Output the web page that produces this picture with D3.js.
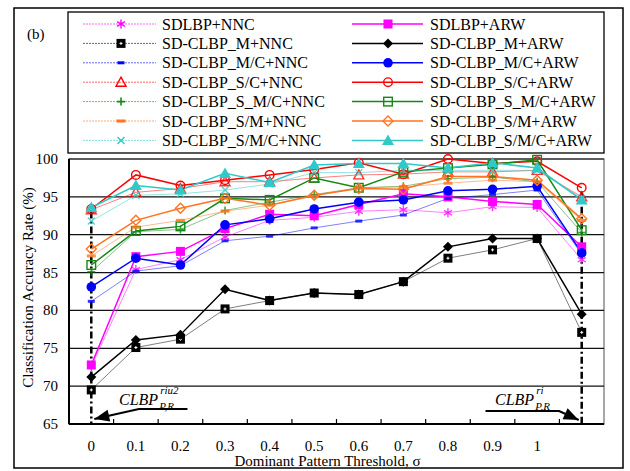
<!DOCTYPE html>
<meta charset="utf-8">
<style>
body { margin: 0; background: #fff; }
svg text { font-family: "Liberation Serif", "Times New Roman", "DejaVu Serif", serif; fill: #000; }
.grid { stroke: #111; stroke-width: 1.3px; }
</style>
<body>
<script src="https://d3js.org/d3.v7.min.js"></script>
<script>

// thresholds (last slot = CLBP riu/ri reference, no label)
var categories = ["0", "0.1", "0.2", "0.3", "0.4", "0.5", "0.6", "0.7", "0.8", "0.9", "1", "ri"];
var tickLabels = ["0", "0.1", "0.2", "0.3", "0.4", "0.5", "0.6", "0.7", "0.8", "0.9", "1", ""];
var yTicks = [65, 70, 75, 80, 85, 90, 95, 100];

// accuracy values
var sdlbpNNC   = [72.6, 85.4, 86.7, 89.7, 91.9, 92.3, 93.1, 93.3, 92.9, 93.7, 93.6, 86.7];
var sdlbpARW   = [72.8, 87.1, 87.8, 90.8, 92.7, 92.5, 94.0, 95.4, 95.0, 94.4, 94.0, 88.4];
var mNNC       = [69.5, 75.1, 76.2, 80.2, 81.3, 82.3, 82.1, 83.8, 86.9, 88.0, 89.5, 77.1];
var mARW       = [71.2, 76.1, 76.8, 82.8, 81.3, 82.3, 82.1, 83.8, 88.4, 89.5, 89.5, 79.5];
var mcNNC      = [81.2, 85.2, 85.9, 89.2, 89.8, 90.9, 91.8, 92.6, 94.8, 95.3, 95.9, 87.4];
var mcARW      = [83.1, 86.9, 86.0, 91.3, 92.1, 93.4, 94.3, 94.6, 95.8, 96.0, 96.4, 87.6];
var scNNC      = [93.3, 95.6, 96.1, 97.0, 97.0, 97.5, 97.9, 98.0, 98.3, 98.3, 98.5, 95.0];
var scARW      = [93.4, 97.9, 96.5, 97.2, 97.9, 98.6, 99.5, 98.0, 100.0, 99.4, 99.7, 96.2];
var smcNNC     = [85.1, 90.4, 90.7, 93.2, 94.3, 95.3, 96.2, 96.4, 97.4, 97.6, 97.0, 90.3];
var smcARW     = [86.0, 90.5, 91.1, 94.8, 94.6, 97.5, 96.2, 98.3, 98.8, 99.3, 99.9, 90.6];
var smNNC      = [87.2, 91.0, 91.9, 93.1, 93.9, 95.1, 96.2, 96.3, 96.8, 97.2, 97.0, 91.9];
var smARW      = [88.1, 91.9, 93.5, 94.8, 93.9, 95.2, 96.1, 96.0, 97.7, 97.7, 97.2, 92.1];
var s_m_cNNC   = [91.8, 95.2, 95.4, 95.9, 96.7, 98.2, 98.2, 98.5, 98.5, 98.5, 98.5, 94.8];
var s_m_cARW   = [93.6, 96.5, 95.9, 98.1, 96.9, 99.2, 99.4, 99.4, 98.8, 99.5, 98.8, 94.6];

var nncNames = ["SDLBP+NNC", "SD-CLBP_M+NNC", "SD-CLBP_M/C+NNC", "SD-CLBP_S/C+NNC",
                "SD-CLBP_S_M/C+NNC", "SD-CLBP_S/M+NNC", "SD-CLBP_S/M/C+NNC"];
var arwNames = ["SDLBP+ARW", "SD-CLBP_M+ARW", "SD-CLBP_M/C+ARW", "SD-CLBP_S/C+ARW",
                "SD-CLBP_S_M/C+ARW", "SD-CLBP_S/M+ARW", "SD-CLBP_S/M/C+ARW"];
var colors = ["#ff00ff", "#000000", "#0000ff", "#ff0000", "#138a13", "#ff7420", "#30c8c8"];
var nncMarkers = ["asterisk", "squareDot", "bar", "triOpen", "plus", "barWide", "x"];
var arwMarkers = ["square", "diamond", "circle", "circleOpen", "squareOpen", "diamondOpen", "triangle"];
var nncValues = [sdlbpNNC, mNNC, mcNNC, scNNC, smcNNC, smNNC, s_m_cNNC];
var arwValues = [sdlbpARW, mARW, mcARW, scARW, smcARW, smARW, s_m_cARW];

var series = [];
for (var k = 0; k < 7; k++) {
  series.push({name: nncNames[k], color: colors[k], marker: nncMarkers[k], values: nncValues[k], nnc: true});
  series.push({name: arwNames[k], color: colors[k], marker: arwMarkers[k], values: arwValues[k], nnc: false});
}

var W = 630, H = 471;
var plot = {left: 69, right: 604, top: 159, bottom: 424};
var FONT = "'Liberation Serif', 'Times New Roman', 'DejaVu Serif', serif";

var svg = d3.select("body").append("svg")
    .attr("width", W)
    .attr("height", H)
    .attr("font-family", FONT);

// outer frame
svg.append("rect")
    .attr("x", 14).attr("y", 8).attr("width", 609).attr("height", 460)
    .attr("fill", "none").attr("stroke", "#000").attr("stroke-width", 1.5);

var x = d3.scalePoint().domain(categories).range([plot.left, plot.right]).padding(0.5);
var y = d3.scaleLinear().domain([65, 100]).range([plot.bottom, plot.top]);

// plot box
svg.append("rect")
    .attr("x", plot.left).attr("y", plot.top)
    .attr("width", plot.right - plot.left).attr("height", plot.bottom - plot.top)
    .attr("fill", "none").attr("stroke", "#8a8a8a").attr("stroke-width", 1.5);

// gridlines
svg.selectAll(".grid")
    .data(yTicks.filter(function(d) { return d > 65 && d < 100; }))
  .enter().append("line")
    .attr("class", "grid")
    .attr("x1", plot.left).attr("x2", plot.right)
    .attr("y1", function(d) { return y(d); })
    .attr("y2", function(d) { return y(d); });
svg.append("line")
    .attr("x1", plot.left).attr("x2", plot.right)
    .attr("y1", y(100)).attr("y2", y(100))
    .attr("stroke", "#444").attr("stroke-width", 1.3);

// axes lines
svg.append("line")
    .attr("x1", plot.left).attr("x2", plot.left)
    .attr("y1", plot.top).attr("y2", plot.bottom)
    .attr("stroke", "#000").attr("stroke-width", 2);
svg.append("line")
    .attr("x1", plot.left).attr("x2", plot.right)
    .attr("y1", plot.bottom).attr("y2", plot.bottom)
    .attr("stroke", "#000").attr("stroke-width", 2);

// x ticks between categories (pointing up)
var step = x.step();
svg.selectAll(".xtick")
    .data(categories.slice(0, categories.length - 1))
  .enter().append("line")
    .attr("class", "xtick")
    .attr("x1", function(d) { return x(d) + step / 2; })
    .attr("x2", function(d) { return x(d) + step / 2; })
    .attr("y1", plot.bottom).attr("y2", plot.bottom - 5)
    .attr("stroke", "#000").attr("stroke-width", 1.2);

// tick labels
svg.selectAll(".xlab")
    .data(categories)
  .enter().append("text")
    .attr("x", function(d) { return x(d); })
    .attr("y", 451)
    .attr("text-anchor", "middle")
    .attr("font-size", "15px")
    .text(function(d, i) { return tickLabels[i]; });

svg.selectAll(".ylab")
    .data(yTicks)
  .enter().append("text")
    .attr("x", 58)
    .attr("y", function(d) { return y(d) + 5; })
    .attr("text-anchor", "end")
    .attr("font-size", "15px")
    .text(function(d) { return d; });

// axis titles
svg.append("text")
    .attr("x", x("0.5") + step / 2 - 9)
    .attr("y", 466)
    .attr("text-anchor", "middle")
    .attr("font-size", "15px")
    .text("Dominant Pattern Threshold, \u03c3");

svg.append("text")
    .attr("transform", "translate(33," + ((plot.top + plot.bottom) / 2 - 4) + ") rotate(-90)")
    .attr("text-anchor", "middle")
    .attr("font-size", "15px")
    .text("Classification Accuracy Rate (%)");

svg.append("text")
    .attr("x", 27).attr("y", 39)
    .attr("font-size", "15px")
    .text("(b)");

// dash-dot reference lines at the CLBP columns
["0", "ri"].forEach(function(c) {
  var i = categories.indexOf(c);
  var top = d3.max(series, function(s) { return s.values[i]; });
  svg.append("line")
      .attr("x1", x(c)).attr("x2", x(c))
      .attr("y1", y(top) + 4).attr("y2", plot.bottom)
      .attr("stroke", "#000").attr("stroke-width", 2.5)
      .attr("stroke-dasharray", "7,3,2,3");
});

// marker drawing
function drawMarker(g, kind, color) {
  switch (kind) {
    case "asterisk":
      g.append("path").attr("d", "M0,-4.5V4.5M-4,-2.3L4,2.3M-4,2.3L4,-2.3")
        .attr("stroke", color).attr("stroke-width", 1.4).attr("fill", "none"); break;
    case "square":
      g.append("rect").attr("x", -4.5).attr("y", -4.5).attr("width", 9).attr("height", 9).attr("fill", color); break;
    case "squareDot":
      g.append("rect").attr("x", -4.5).attr("y", -4.5).attr("width", 9).attr("height", 9).attr("fill", "#000");
      g.append("path").attr("d", "M-1.5,0H1.5M0,-1.5V1.5").attr("stroke", "#fff").attr("stroke-width", 1); break;
    case "diamond":
      g.append("path").attr("d", "M0,-5L5,0L0,5L-5,0Z").attr("fill", color); break;
    case "bar":
      g.append("rect").attr("x", -3.5).attr("y", -1.5).attr("width", 7).attr("height", 3).attr("fill", color); break;
    case "barWide":
      g.append("rect").attr("x", -4.5).attr("y", -1.5).attr("width", 9).attr("height", 3).attr("fill", color); break;
    case "circle":
      g.append("circle").attr("r", 4.8).attr("fill", color); break;
    case "triOpen":
      g.append("path").attr("d", "M0,-5L5,4L-5,4Z").attr("fill", "none")
        .attr("stroke", color).attr("stroke-width", 1.4); break;
    case "circleOpen":
      g.append("circle").attr("r", 4.3).attr("fill", "none")
        .attr("stroke", color).attr("stroke-width", 1.4); break;
    case "plus":
      g.append("path").attr("d", "M-4,0H4M0,-4V4").attr("stroke", color).attr("stroke-width", 1.6); break;
    case "squareOpen":
      g.append("rect").attr("x", -4.3).attr("y", -4.3).attr("width", 8.6).attr("height", 8.6)
        .attr("fill", "none").attr("stroke", color).attr("stroke-width", 1.4); break;
    case "diamondOpen":
      g.append("path").attr("d", "M0,-5L5,0L0,5L-5,0Z").attr("fill", "none")
        .attr("stroke", color).attr("stroke-width", 1.4); break;
    case "x":
      g.append("path").attr("d", "M-3.5,-3.5L3.5,3.5M-3.5,3.5L3.5,-3.5")
        .attr("stroke", color).attr("stroke-width", 1.4); break;
    case "triangle":
      g.append("path").attr("d", "M0,-6L6,4.5L-6,4.5Z").attr("fill", color); break;
  }
}

var line = d3.line()
    .x(function(d, i) { return x(categories[i]); })
    .y(function(d) { return y(d); });

// lines then markers
series.forEach(function(s) {
  svg.append("path")
      .datum(s.values)
      .attr("d", line)
      .attr("fill", "none")
      .attr("stroke", s.color)
      .attr("stroke-width", s.nnc ? 1 : 1.5)
      .attr("stroke-opacity", s.nnc ? 0.5 : 1);
});
series.forEach(function(s) {
  s.values.forEach(function(v, i) {
    var g = svg.append("g")
        .attr("transform", "translate(" + x(categories[i]) + "," + y(v) + ")")
        .attr("opacity", s.nnc && s.marker !== "squareDot" ? 0.8 : 1);
    drawMarker(g, s.marker, s.color);
  });
});

// annotations
function arrow(pts, tip) {
  svg.append("path")
      .attr("d", d3.line()(pts.concat([tip])))
      .attr("fill", "none").attr("stroke", "#000").attr("stroke-width", 2.2);
  var b = pts[pts.length - 1];
  var a = Math.atan2(tip[1] - b[1], tip[0] - b[0]);
  var len = 15, hw = 6;
  var bx = tip[0] - len * Math.cos(a), by = tip[1] - len * Math.sin(a);
  svg.append("path")
      .attr("d", "M" + tip[0] + "," + tip[1] +
                 "L" + (bx + hw * Math.sin(a)) + "," + (by - hw * Math.cos(a)) +
                 "L" + (bx - hw * Math.sin(a)) + "," + (by + hw * Math.cos(a)) + "Z")
      .attr("fill", "#000");
}
arrow([[x("0.2") + 7, 409], [x("0.1") + 3, 409]], [x("0") + 3, 419]);
arrow([[x("0.9") - 7, 411], [x("1") + 22, 411]], [x("ri") - 3, 420]);

function clbpLabel(xp, sup) {
  var t = svg.append("g").attr("font-style", "italic");
  var main = t.append("text").attr("x", xp).attr("y", 405).attr("font-size", "16px").text("CLBP");
  var w = main.node().getComputedTextLength();
  t.append("text").attr("x", xp + w + 2).attr("y", 394).attr("font-size", "11px").text(sup);
  t.append("text").attr("x", xp + w + 1).attr("y", 410).attr("font-size", "11px").text("P,R");
}
clbpLabel(119, "riu2");
clbpLabel(495, "ri");

// legend
svg.append("rect")
    .attr("x", 68).attr("y", 12).attr("width", 536).attr("height", 141)
    .attr("fill", "#fff").attr("stroke", "#000").attr("stroke-width", 1.3);

series.forEach(function(s, j) {
  var row = Math.floor(j / 2), col = j % 2;
  var ly = 24 + row * 19.4;
  var x0 = col ? 352 : 83, x1 = col ? 423 : 156, xm = col ? 388 : 121, xt = col ? 430 : 162;
  svg.append("line")
      .attr("x1", x0).attr("x2", x1).attr("y1", ly).attr("y2", ly)
      .attr("stroke", s.color)
      .attr("stroke-width", s.nnc ? 1 : 1.5)
      .attr("stroke-opacity", s.nnc ? 0.6 : 1)
      .attr("stroke-dasharray", s.nnc ? "2,1" : null);
  var g = svg.append("g").attr("transform", "translate(" + xm + "," + ly + ")");
  drawMarker(g, s.marker, s.color);
  svg.append("text")
      .attr("x", xt).attr("y", ly + 5.5)
      .attr("font-size", "16px")
      .text(s.name);
});

</script>
</body>
